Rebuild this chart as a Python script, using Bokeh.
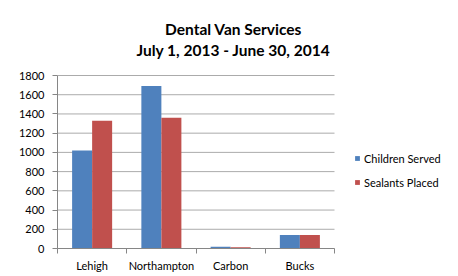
import numpy as np
from bokeh.plotting import figure
from bokeh.models import (ColumnDataSource, Range1d, FixedTicker, Legend, LegendItem, Label)
from bokeh.embed import file_html
from bokeh.resources import INLINE

categories = ["Lehigh", "Northampton", "Carbon", "Bucks"]
children_served = [1020, 1690, 18, 140]
sealants_placed = [1330, 1360, 12, 140]
y_ticks = [0, 200, 400, 600, 800, 1000, 1200, 1400, 1600, 1800]
title_lines = ["Dental Van Services", "July 1, 2013 - June 30, 2014"]
series_names = ["Children Served", "Sealants Placed"]

BLUE = "#4F81BD"
RED = "#C0504D"
FONT = "Lato"

W, H = 458, 276
LEFT, BOTTOM = 57, 28          # axis panels
PLOT_W, PLOT_H = 277, 173      # visible axes area (px)
n = len(categories)
ymax = y_ticks[-1]
# frame covers the whole area right of / above the axes, axes limited by bounds
x_end = n * (W - LEFT) / PLOT_W
y_end = ymax * (H - BOTTOM) / PLOT_H

centers = np.arange(n) + 0.5
bar_w = 0.289
src = ColumnDataSource(dict(
    xb=centers - bar_w / 2, xr=centers + bar_w / 2,
    cs=children_served, sp=sealants_placed))

p = figure(width=W, height=H, output_backend="svg", toolbar_location=None,
           x_range=Range1d(0, x_end), y_range=Range1d(0, y_end),
           min_border_left=LEFT, min_border_right=0, min_border_top=0,
           min_border_bottom=BOTTOM, background_fill_color="white",
           border_fill_color="white", outline_line_color=None, title=None)

# horizontal gridlines limited to the category extent
p.segment(x0=[0] * len(y_ticks), x1=[n] * len(y_ticks), y0=y_ticks, y1=y_ticks,
          line_color="#ababab", line_width=1)
p.xgrid.grid_line_color = None
p.ygrid.grid_line_color = None

rb = p.vbar(x="xb", top="cs", width=bar_w, source=src, fill_color=BLUE, line_color=None)
rr = p.vbar(x="xr", top="sp", width=bar_w, source=src, fill_color=RED, line_color=None)

# x axis: labels at centers, ticks at boundaries
p.xaxis.bounds = (0, n)
p.xaxis.ticker = FixedTicker(ticks=list(centers), minor_ticks=list(range(n + 1)))
p.xaxis.major_label_overrides = {float(c): lab for c, lab in zip(centers, categories)}
p.xaxis.major_tick_line_color = None
p.xaxis.major_tick_out = 5
p.xaxis.major_tick_in = 0
p.xaxis.minor_tick_out = 5
p.xaxis.minor_tick_in = 0
p.xaxis.minor_tick_line_color = "#868686"
p.xaxis.axis_line_color = "#868686"
p.xaxis.major_label_standoff = 5
p.xaxis.major_label_text_font = FONT
p.xaxis.major_label_text_font_size = "11px"
p.xaxis.major_label_text_color = "black"

p.yaxis.bounds = (0, ymax)
p.yaxis.ticker = FixedTicker(ticks=y_ticks, minor_ticks=[])
p.yaxis.axis_line_color = "#868686"
p.yaxis.major_tick_line_color = "#868686"
p.yaxis.major_tick_out = 5
p.yaxis.major_tick_in = 0
p.yaxis.minor_tick_line_color = None
p.yaxis.major_label_standoff = 8
p.yaxis.major_label_text_font = FONT
p.yaxis.major_label_text_font_size = "11px"
p.yaxis.major_label_text_color = "black"

# two-line title, centred over the chart box
units_per_px = ymax / PLOT_H
tx = (233 - LEFT) * n / PLOT_W
for txt, base_px in zip(title_lines, [28, 49]):
    p.add_layout(Label(x=tx, y=(H - BOTTOM - base_px) * units_per_px, text=txt,
                       text_align="center", text_baseline="alphabetic",
                       text_font=FONT, text_font_style="bold", text_font_size="15.5px",
                       text_color="black"))

legend = Legend(items=[LegendItem(label=series_names[0], renderers=[rb]),
                       LegendItem(label=series_names[1], renderers=[rr])],
                location=(297, 59), orientation="vertical",
                glyph_width=6, glyph_height=6, label_standoff=4, spacing=10,
                label_height=14, padding=0, margin=0,
                border_line_color=None, background_fill_alpha=0,
                label_text_font=FONT, label_text_font_size="11px", label_text_color="black")
p.add_layout(legend)

open("out.html", "w").write(file_html(p, INLINE))
